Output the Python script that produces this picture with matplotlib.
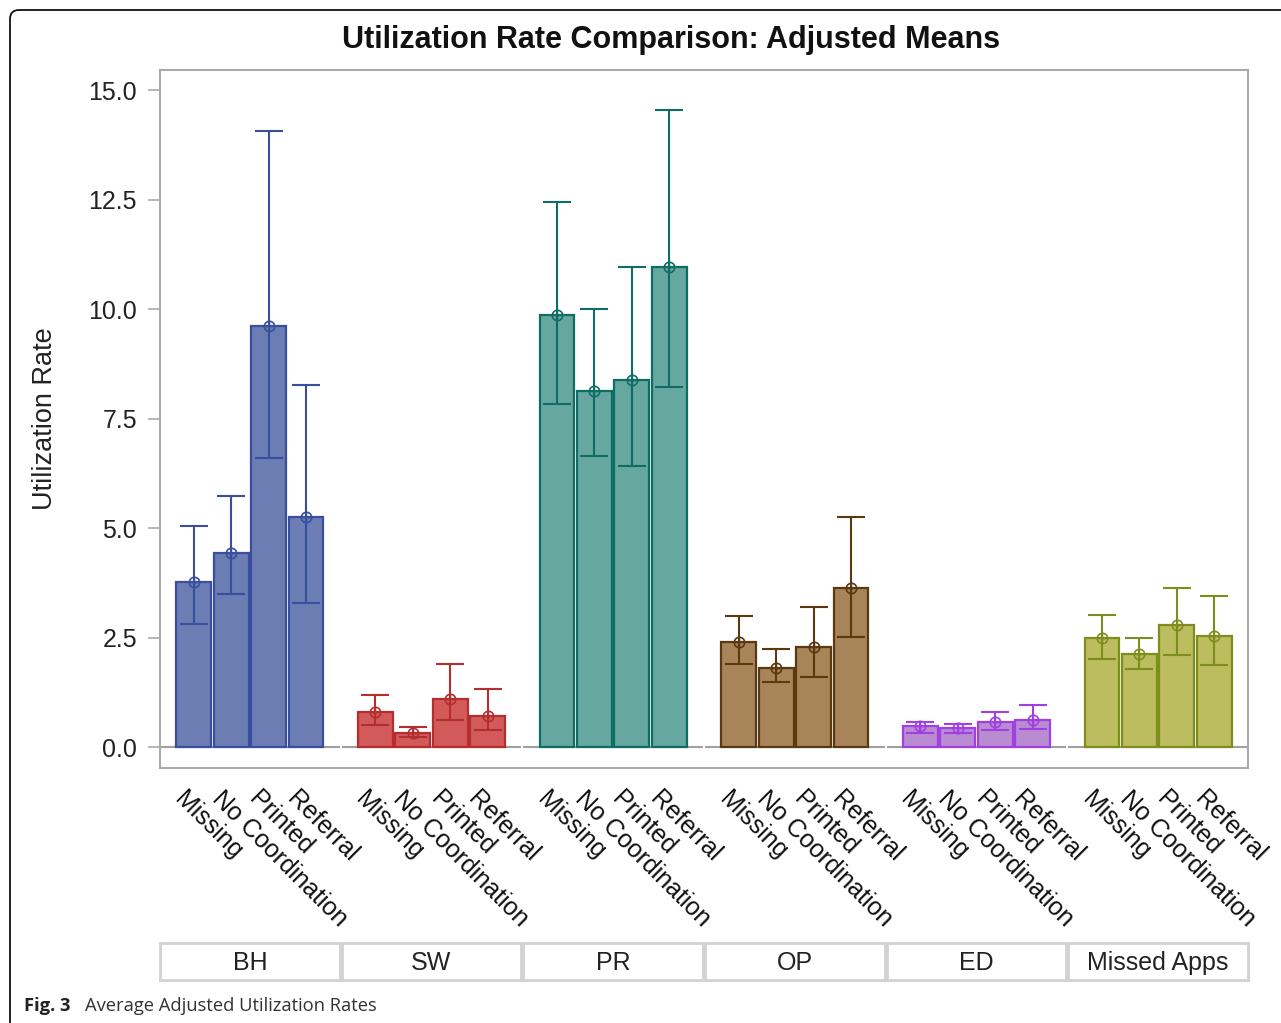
import matplotlib
matplotlib.use("Agg")
import matplotlib.pyplot as plt
import matplotlib.transforms as mtransforms
from matplotlib.patches import FancyBboxPatch
import numpy as np

# ---------------- data ----------------
panels = ["BH", "SW", "PR", "OP", "ED", "Missed Apps"]
categories = ["Missing", "No Coordination", "Printed", "Referral"]

means_BH = [3.77, 4.44, 9.61, 5.25]
lower_BH = [2.80, 3.49, 6.60, 3.29]
upper_BH = [5.05, 5.74, 14.07, 8.26]

means_SW = [0.79, 0.32, 1.09, 0.70]
lower_SW = [0.50, 0.22, 0.61, 0.38]
upper_SW = [1.18, 0.46, 1.90, 1.32]

means_PR = [9.86, 8.13, 8.37, 10.96]
lower_PR = [7.84, 6.65, 6.41, 8.21]
upper_PR = [12.44, 9.99, 10.96, 14.55]

means_OP = [2.39, 1.80, 2.28, 3.62]
lower_OP = [1.90, 1.48, 1.61, 2.52]
upper_OP = [2.99, 2.23, 3.19, 5.25]

means_ED = [0.48, 0.43, 0.58, 0.62]
lower_ED = [0.33, 0.33, 0.38, 0.42]
upper_ED = [0.57, 0.52, 0.81, 0.95]

means_MA = [2.50, 2.12, 2.78, 2.54]
lower_MA = [2.01, 1.77, 2.11, 1.87]
upper_MA = [3.01, 2.49, 3.63, 3.45]

yticks = [0.0, 2.5, 5.0, 7.5, 10.0, 12.5, 15.0]
ytick_labels = ["0.0", "2.5", "5.0", "7.5", "10.0", "12.5", "15.0"]

fill_colors = ["#6C7DB4", "#D35A5A", "#66A7A0", "#A8845A", "#B98BD0", "#BCBD5E"]
edge_colors = ["#3A4E9E", "#B52E2E", "#0E6E64", "#5A3810", "#A23FE2", "#7E8E1E"]

all_means = [means_BH, means_SW, means_PR, means_OP, means_ED, means_MA]
all_lower = [lower_BH, lower_SW, lower_PR, lower_OP, lower_ED, lower_MA]
all_upper = [upper_BH, upper_SW, upper_PR, upper_OP, upper_ED, upper_MA]

# ---------------- figure ----------------
W, H = 1281, 1023
fig = plt.figure(figsize=(W / 100, H / 100), dpi=100)
plt.rcParams['font.family'] = ['Liberation Sans', 'DejaVu Sans']

axis_gray = "#A7ABAF"
left_px, right_px, top_px, bot_px = 160, 1248, 70, 768
gap = 2
pw = (right_px - left_px - gap * 5) / 6

ymin, ymax = -0.479, 15.457

for i, name in enumerate(panels):
    x0 = left_px + i * (pw + gap)
    ax = fig.add_axes([x0 / W, 1 - bot_px / H, pw / W, (bot_px - top_px) / H])
    x = np.arange(len(categories))
    m = np.array(all_means[i])
    lo = np.array(all_lower[i])
    up = np.array(all_upper[i])
    ax.bar(x, m, width=0.93, color=fill_colors[i], edgecolor=edge_colors[i],
           linewidth=1.6, zorder=2)
    ax.errorbar(x, m, yerr=[m - lo, up - m], fmt='none', ecolor=edge_colors[i],
                elinewidth=1.5, capsize=10, capthick=1.5, zorder=3)
    ax.plot(x, m, 'o', ms=7.5, mfc='none', mec=edge_colors[i], mew=1.2, zorder=4)
    ax.plot(x, m, '+', ms=7.5, mec=edge_colors[i], mew=1.0, zorder=4)
    ax.axhline(0, color="#A0A0A0", lw=1.5, zorder=1)
    ax.set_xlim(-0.9, 3.9)
    ax.set_ylim(ymin, ymax)
    ax.set_xticks([])
    for s in ax.spines.values():
        s.set_color(axis_gray)
        s.set_linewidth(1.5)
    if i != 0:
        ax.spines['left'].set_visible(False)
        ax.set_yticks([])
    else:
        ax.set_yticks(yticks)
        ax.set_yticklabels(ytick_labels)
        ax.tick_params(axis='y', length=8.5, width=1.2, color=axis_gray,
                       labelsize=18, pad=8, labelcolor="#222222")
        ax.set_ylabel("Utilization Rate", fontsize=19.5, labelpad=22, color="#222222")
    if i != 5:
        ax.spines['right'].set_visible(False)
    # rotated category labels
    trans = mtransforms.blended_transform_factory(ax.transData, ax.transAxes)
    for j, c in enumerate(categories):
        off = mtransforms.ScaledTranslation(-7 / 100, -19 / 100, fig.dpi_scale_trans)
        ax.text(x[j], 0, c, transform=trans + off, rotation=-45,
                rotation_mode='anchor', ha='left', va='top', fontsize=18,
                color="#111111")
    # header box
    hax = fig.add_axes([x0 / W, 1 - 980 / H, pw / W, 37 / H])
    hax.set_xticks([]); hax.set_yticks([])
    for s in hax.spines.values():
        s.set_color("#D2D2D2"); s.set_linewidth(2)
    hax.text(0.5, 0.47, name, ha='center', va='center', fontsize=18, color="#222222",
             transform=hax.transAxes)

fig.text(671 / W, 1 - 40 / H, "Utilization Rate Comparison: Adjusted Means",
         ha='center', va='center', fontsize=22, fontweight='bold', color="#111111")

# caption
fig.text(24 / W, 1 - 1006 / H, "Fig. 3", ha='left', va='center', fontsize=13.2,
         fontweight='bold', family=['Open Sans', 'DejaVu Sans'], color="#222222")
fig.text(85 / W, 1 - 1006 / H, "Average Adjusted Utilization Rates", ha='left',
         va='center', fontsize=13.2, family=['Open Sans', 'DejaVu Sans'], color="#333333")

# outer frame (top and left only visible)
frame = FancyBboxPatch((10, -60), 1400, H - 10 + 60, boxstyle="round,pad=0,rounding_size=9",
                       transform=mtransforms.IdentityTransform(), fill=False,
                       edgecolor="#111111", linewidth=1.3)
fig.add_artist(frame)

fig.savefig("out.png", dpi=100)
